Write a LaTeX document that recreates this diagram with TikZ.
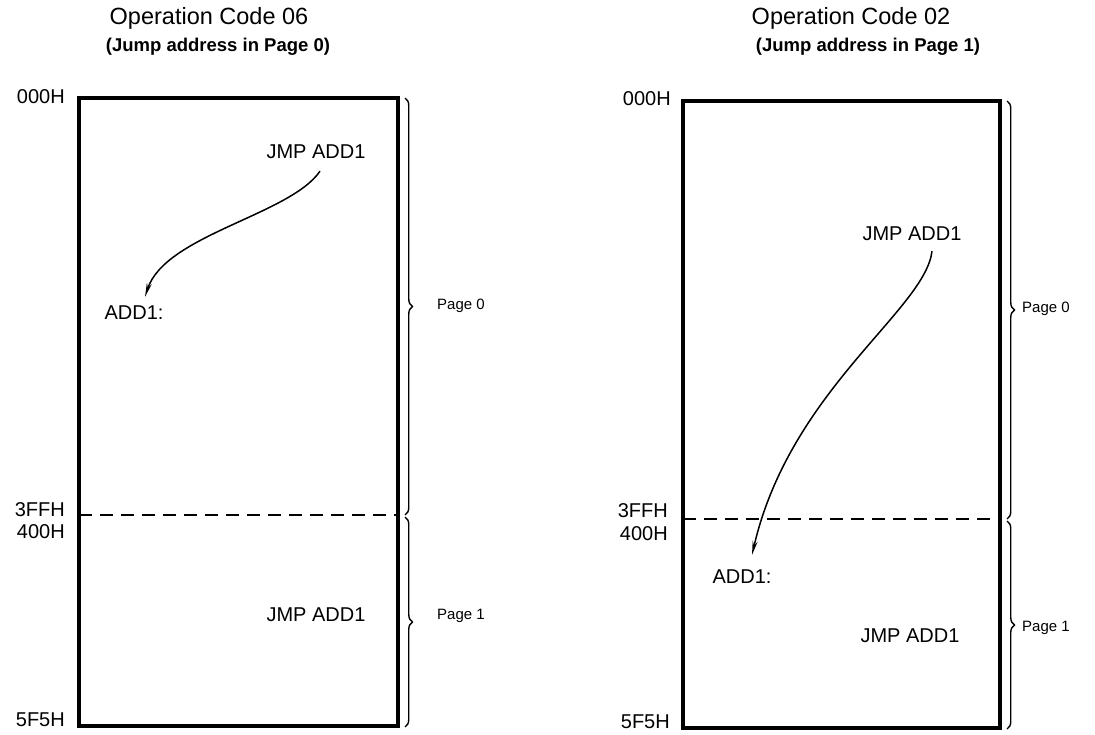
\documentclass[tikz,border=0pt]{standalone}
\usepackage{fontspec}
\setmainfont{Liberation Sans}
\usetikzlibrary{arrows.meta,decorations.pathreplacing}
\begin{document}
\begin{tikzpicture}[x=1pt,y=-1pt,
  memory/.style={line width=3.2pt},
  pagesplit/.style={line width=1.5pt,dash pattern=on 13pt off 8pt},
  addr/.style={font=\fontsize{20}{20}\selectfont,anchor=east,inner sep=0pt},
  code/.style={font=\fontsize{20}{20}\selectfont,inner sep=0pt},
  pagelbl/.style={font=\fontsize{15}{15}\selectfont,anchor=west,inner sep=0pt},
  title/.style={font=\fontsize{23.5}{23.5}\selectfont,inner sep=0pt},
  subtitle/.style={font=\bfseries\fontsize{18.5}{18.5}\selectfont,inner sep=0pt},
  pagebrace/.style={line width=1.4pt,decorate,decoration={brace,amplitude=7.5pt}},
  jump/.style={line width=1.5pt,-{Stealth[length=14pt,width=5pt]}}]
\useasboundingbox (0,0) rectangle (1095,735);

% ---------------- left panel ----------------
\node[title] (tA) at (209,18) {Operation Code 06};
\node[subtitle] (sA) at (218,47) {(Jump address in Page 0)};
\draw[memory] (79,98) rectangle (398,726);
\coordinate (dA1) at (79,515);
\coordinate (dA2) at (398,515);
\draw[pagesplit] (dA1) -- (dA2);
\node[addr] (a000A) at (65,97) {000H};
\node[addr] (a3ffA) at (65,510) {3FFH};
\node[addr] (a400A) at (65,532) {400H};
\node[addr] (a5f5A) at (65,720) {5F5H};
\coordinate (bA0) at (405,98);
\coordinate (bA1) at (405,515);
\coordinate (bA2) at (405,517);
\coordinate (bA3) at (405,727);
\draw[pagebrace] (bA0) -- (bA1);
\draw[pagebrace] (bA2) -- (bA3);
\node[pagelbl] (p0A) at (437,306) {Page 0};
\node[pagelbl] (p1A) at (437,616) {Page 1};
\node[code] (jA) at (316,152) {JMP ADD1};
\node[code] (adA) at (134,313) {ADD1:};
\node[code] (jA2) at (316,615) {JMP ADD1};
\draw[jump] ([xshift=4pt,yshift=-12pt]jA.south) .. controls (290,215) and (165,235) .. ([xshift=11pt,yshift=9pt]adA.north);

% ---------------- right panel ----------------
\node[title] (tB) at (851,18) {Operation Code 02};
\node[subtitle] (sB) at (868,47) {(Jump address in Page 1)};
\draw[memory] (683,101) rectangle (1000,728);
\coordinate (dB1) at (683,519);
\coordinate (dB2) at (1000,519);
\draw[pagesplit] (dB1) -- (dB2);
\node[addr] (a000B) at (671,99) {000H};
\node[addr] (a3ffB) at (668,511) {3FFH};
\node[addr] (a400B) at (668,534) {400H};
\node[addr] (a5f5B) at (670,722) {5F5H};
\coordinate (bB0) at (1007,101);
\coordinate (bB1) at (1007,519);
\coordinate (bB2) at (1007,521);
\coordinate (bB3) at (1007,729);
\draw[pagebrace] (bB0) -- (bB1);
\draw[pagebrace] (bB2) -- (bB3);
\node[pagelbl] (p0B) at (1022,309) {Page 0};
\node[pagelbl] (p1B) at (1022,628) {Page 1};
\node[code] (jB) at (912,234) {JMP ADD1};
\node[code] (adB) at (742,577) {ADD1:};
\node[code] (jB2) at (910,636) {JMP ADD1};
\draw[jump] ([xshift=20pt,yshift=-10pt]jB.south) .. controls (925,310) and (790,390) .. ([xshift=10pt,yshift=15pt]adB.north);
\end{tikzpicture}
\end{document}
